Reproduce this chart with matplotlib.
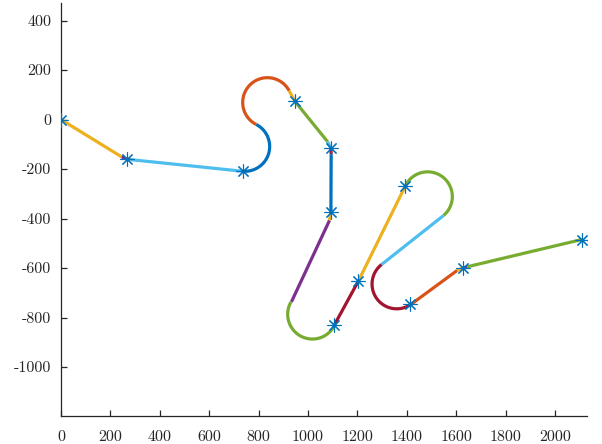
import numpy as np
import matplotlib
matplotlib.use("Agg")
import matplotlib.pyplot as plt

# MATLAB default colour order
palette = ["#0072BD", "#D95319", "#EDB120", "#7E2F8E", "#77AC30", "#4DBEEE", "#A2142F"]

# Waypoints (asterisk markers)
wp_x = [0, 266, 736, 947, 1093, 1093, 1107, 1204, 1395, 1415, 1629, 2108]
wp_y = [0, -159, -209, 74, -116, -374, -830, -653, -267, -745, -599, -485]

# Path segments in order: ('L', x0, y0, x1, y1) straight, ('A', cx, cy, r, t0_deg, t1_deg) arc
seg_kind = ["L", "L", "L", "L", "A", "A", "L", "L", "L", "L", "L", "L", "L",
            "A", "L", "L", "A", "L", "A", "L", "L", "L", "L"]
seg_vals = [
    (0, 0, 246, -151),
    (246, -151, 261, -158),
    (261, -158, 282, -162),
    (282, -162, 736, -209),
    (745, -109, 100, -95, 63),
    (835.8, 69.2, 100, 243, 28),
    (923.8, 116.2, 947, 74),
    (947, 74, 1080, -90),
    (1080, -90, 1093, -116),
    (1093, -116, 1094, -141),
    (1094, -141, 1093, -374),
    (1093, -374, 1087, -408),
    (1087, -408, 933, -737),
    (1018, -787, 100, 150, 334),
    (1107, -830, 1204, -653),
    (1204, -653, 1395, -267),
    (1484.6, -311.3, 100, 153.7, -50),
    (1548.9, -387.9, 1298, -586),
    (1359.6, -664.8, 100, 128, 305),
    (1417, -747, 1604, -610),
    (1604, -610, 1629, -599),
    (1629, -599, 1645, -595),
    (1645, -595, 2108, -485),
]
seg_color = [2, 3, 4, 5, 0, 1, 2, 4, 5, 6, 0, 2, 3, 4, 6, 2, 4, 5, 6, 1, 2, 3, 4]

x_ticks = [0, 200, 400, 600, 800, 1000, 1200, 1400, 1600, 1800, 2000]
y_ticks = [-1000, -800, -600, -400, -200, 0, 200, 400]

plt.rcParams["font.family"] = ["cmr10", "DejaVu Serif"]
plt.rcParams["axes.unicode_minus"] = False

fig = plt.figure(figsize=(6.02, 4.44), dpi=100)
ax = fig.add_axes([61 / 602, 1 - 416 / 444, 526 / 602, 413 / 444])

for kind, v, c in zip(seg_kind, seg_vals, seg_color):
    if kind == "L":
        xs = [v[0], v[2]]
        ys = [v[1], v[3]]
    else:
        t = np.radians(np.linspace(v[3], v[4], 80))
        xs = v[0] + v[2] * np.cos(t)
        ys = v[1] + v[2] * np.sin(t)
    ax.plot(xs, ys, color=palette[c], lw=2.3, solid_capstyle="butt", zorder=2)

ax.plot(wp_x, wp_y, ls="none", marker=(8, 2, 0), ms=10, mew=0.8,
        color="#0072BD", zorder=3)

ax.set_xlim(0, 2130)
ax.set_ylim(-1198, 471)
ax.set_xticks(x_ticks)
ax.set_yticks(y_ticks)
ax.set_xticklabels([str(v) for v in x_ticks])
ax.set_yticklabels([str(v) for v in y_ticks])
for s in ["top", "right"]:
    ax.spines[s].set_visible(False)
for s in ["left", "bottom"]:
    ax.spines[s].set_color("#262626")
    ax.spines[s].set_linewidth(0.9)
ax.tick_params(direction="in", length=4, width=0.9, color="#262626",
               labelcolor="#262626", labelsize=11.5)
ax.tick_params(axis="x", pad=10)
ax.tick_params(axis="y", pad=7)

fig.savefig("out.png", dpi=100)
